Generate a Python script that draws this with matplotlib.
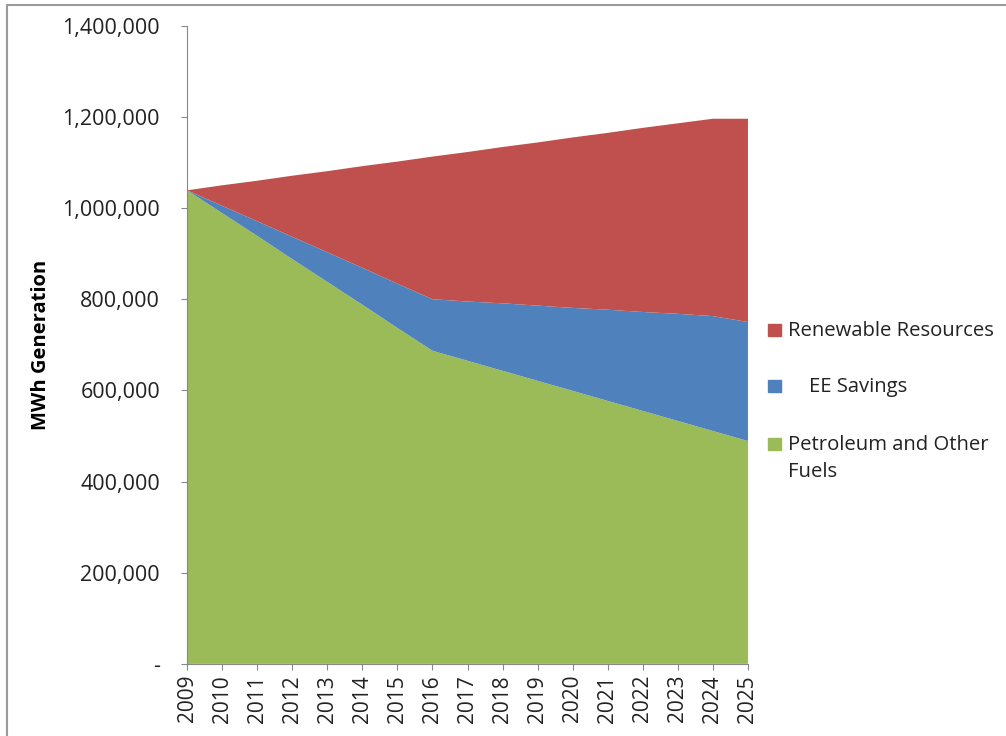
import matplotlib.pyplot as plt
import matplotlib.ticker as mticker
from matplotlib.patches import Rectangle

plt.rcParams['font.family'] = ['Open Sans', 'DejaVu Sans']

years = list(range(2009, 2026))
# stacked components (MWh)
petroleum = [1039000, 989000, 939000, 888000, 838000, 788000, 737000, 687000,
             665000, 643000, 621000, 599000, 577000, 555000, 533000, 511000, 489000]
ee_savings = [0, 16000, 32000, 49000, 65000, 81000, 97000, 113000,
              130000, 148000, 165000, 182000, 200000, 217000, 235000, 252000, 261000]
renewables = [0, 45000, 89000, 134000, 178000, 223000, 268000, 313000,
              328000, 343000, 358000, 374000, 388000, 404000, 418000, 433000, 446000]

labels = ["Petroleum and Other\nFuels", "    EE Savings", "Renewable Resources"]
colors = ["#9BBB59", "#4F81BD", "#C0504D"]

fig = plt.figure(figsize=(10.06, 7.36), dpi=100)
ax = fig.add_axes([0.186, 0.098, 0.5575, 0.867])

ax.stackplot(years, petroleum, ee_savings, renewables, colors=colors, linewidth=0)

ax.set_xlim(2009, 2025)
ax.set_ylim(0, 1400000)
ax.set_xticks(years)
ax.set_xticklabels([str(y) for y in years], rotation=90, fontsize=15)
ax.set_yticks(range(0, 1400001, 200000))
ax.yaxis.set_major_formatter(mticker.FuncFormatter(
    lambda v, p: "-" if v == 0 else f"{int(v):,}"))
ax.tick_params(axis='y', labelsize=15.5, length=4.5, color='#888888', pad=15,
               labelcolor='#222222')
ax.tick_params(axis='x', length=4.5, color='#888888', pad=3.5, labelcolor='#222222')
for s in ['top', 'right']:
    ax.spines[s].set_visible(False)
for s in ['left', 'bottom']:
    ax.spines[s].set_color('#888888')
ax.set_ylabel("MWh Generation", fontsize=14.5, fontweight='bold')
ax.yaxis.set_label_coords(-0.243, 0.5)

# legend, drawn by hand to match the original spacing
W, H = 1006, 736
leg = [(2, 336, 788), (1, 392, 788), (0, 450, 788)]
for idx, base, tx in leg:
    fig.patches.append(Rectangle((768 / W, 1 - base / H), 13 / W, 12.5 / H,
                                 transform=fig.transFigure, color=colors[idx]))
    for k, line in enumerate(labels[idx].split("\n")):
        fig.text(tx / W, 1 - (base + 27 * k) / H, line, fontsize=14.6,
                 va='baseline', ha='left', color='#222222')

# outer chart border
fig.patches.append(Rectangle((7 / W, -0.1), 1.2, 1 - 5 / H + 0.1,
                             transform=fig.transFigure, fill=False,
                             edgecolor='#9a9a9a', linewidth=1.5))

fig.savefig("out.png", dpi=100)
